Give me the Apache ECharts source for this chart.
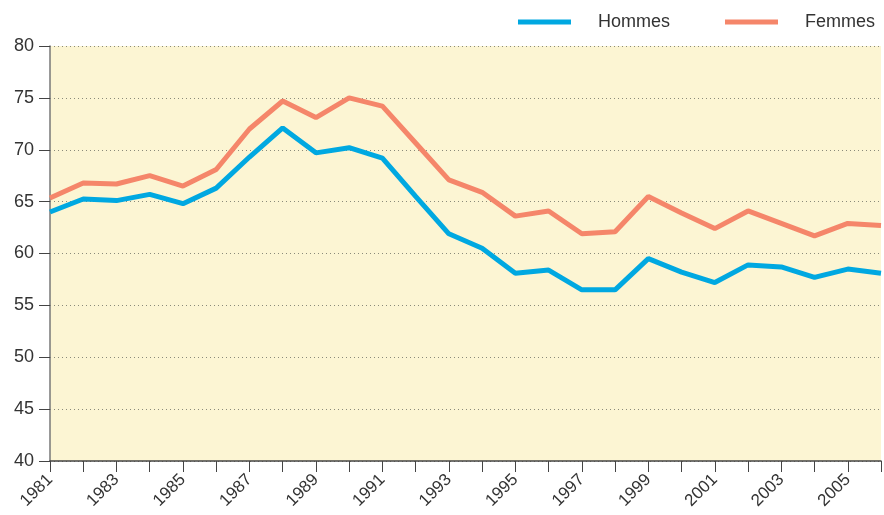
<!DOCTYPE html>
<html><head><meta charset="utf-8">
<script src="https://cdn.jsdelivr.net/npm/echarts@6/dist/echarts.min.js"></script>
<style>html,body{margin:0;padding:0;background:#fff}#c{width:884px;height:515px}</style>
</head><body><div id="c"></div>
<script>
const years = ['1981','1982','1983','1984','1985','1986','1987','1988','1989','1990','1991','1992','1993','1994','1995','1996','1997','1998','1999','2000','2001','2002','2003','2004','2005','2006'];
const hommes = [64.0,65.25,65.1,65.7,64.8,66.3,69.3,72.1,69.7,70.2,69.2,65.5,61.9,60.5,58.1,58.4,56.5,56.5,59.5,58.2,57.2,58.9,58.7,57.7,58.5,58.1];
const femmes = [65.35,66.8,66.7,67.5,66.5,68.1,72.0,74.7,73.1,75.0,74.2,70.65,67.1,65.9,63.6,64.1,61.9,62.1,65.5,63.9,62.4,64.1,62.9,61.7,62.9,62.7];
const yTicks = {min:40, max:80, interval:5};
const FONT = '"Liberation Sans Narrow","Arial Narrow","Liberation Sans",Arial,sans-serif';
const chart = echarts.init(document.getElementById('c'));
chart.setOption({
  animation:false,
  legend:{
    top:8, right:4, itemWidth:53, itemHeight:5, itemGap:55,
    icon:'rect',
    data:['Hommes','Femmes'],
    textStyle:{fontFamily:FONT, fontSize:18, color:'#333', padding:[0,0,0,22]}
  },
  grid:{left:50, right:3, top:46, bottom:54, show:true, backgroundColor:'#FCF5D3', borderWidth:0},
  xAxis:{
    type:'category', data:years, boundaryGap:false,
    axisLine:{lineStyle:{color:'#444', width:1.5}},
    axisTick:{interval:0, length:11, lineStyle:{color:'#444'}},
    axisLabel:{interval:1, rotate:45, fontFamily:FONT, fontSize:17, color:'#333', margin:16},
    splitLine:{show:false}
  },
  yAxis:{
    type:'value', min:yTicks.min, max:yTicks.max, interval:yTicks.interval,
    axisLine:{show:true, lineStyle:{color:'#777', width:1.5}},
    axisTick:{show:true, length:11, lineStyle:{color:'#444'}},
    axisLabel:{fontFamily:FONT, fontSize:18, color:'#333', margin:16},
    splitLine:{show:true, lineStyle:{color:'#8a8a7a', type:[1,3], width:1}}
  },
  series:[
    {name:'Hommes', type:'line', data:hommes, symbol:'none', color:'#00A8E1', lineStyle:{width:5, color:'#00A8E1'}},
    {name:'Femmes', type:'line', data:femmes, symbol:'none', color:'#F5866A', lineStyle:{width:5, color:'#F5866A'}}
  ]
});
</script></body></html>
